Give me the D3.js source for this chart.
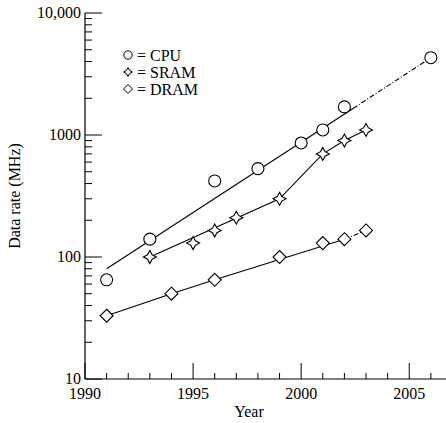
<!DOCTYPE html>
<html><head><meta charset="utf-8">
<script src="https://cdn.jsdelivr.net/npm/d3@7"></script>
<style>html,body{margin:0;padding:0;background:#fff}svg{display:block}
text{font-family:"Liberation Serif","DejaVu Serif",serif;}</style>
</head><body>
<script>
// ---- data ----
const cpuYears  = [1991, 1993, 1996, 1998, 2000, 2001, 2002, 2006];
const cpuValues = [65, 140, 420, 530, 860, 1100, 1700, 4300];
const sramYears  = [1993, 1995, 1996, 1997, 1999, 2001, 2002, 2003];
const sramValues = [100, 130, 165, 210, 300, 700, 900, 1100];
const dramYears  = [1991, 1994, 1996, 1999, 2001, 2002, 2003];
const dramValues = [33, 50, 65, 100, 130, 140, 165];
// trend lines (year, value)
const cpuTrendSolid  = [[1991, 80], [2002.4, 1650]];
const cpuTrendDashed = [[2002.4, 1650], [2006, 4300]];
const sramTrend      = [[1993, 100], [1999, 300], [2001, 700], [2002, 900], [2003, 1100]];
const dramTrendSolid = [[1991, 33], [1994, 50], [1996, 65], [2002, 140]];
const dramTrendDash  = [[2002, 140], [2003, 165]];
const yTickValues = [10, 100, 1000, 10000];
const yTickLabels = ["10", "100", "1000", "10,000"];
const xTickValues = [1990, 1995, 2000, 2005];
const legendLabels = ["= CPU", "= SRAM", "= DRAM"];

const W = 446, H = 423;
const svg = d3.select("body").append("svg").attr("width", W).attr("height", H);

const x = d3.scaleLinear().domain([1990, 2006.7]).range([85, 446]);
const y = d3.scaleLog().domain([10, 10000]).range([379, 13]);

const g = svg.append("g");
g.append("line").attr("x1", x(1990)).attr("x2", x(1990)).attr("y1", y(10000)).attr("y2", y(10)).attr("stroke", "#000").attr("stroke-width", 1.2);
g.append("line").attr("x1", x(1990)).attr("x2", W).attr("y1", y(10)).attr("y2", y(10)).attr("stroke", "#000").attr("stroke-width", 1.2);

const yMinor = [];
for (let d = 10; d < 10000; d *= 10) for (let k = 2; k <= 9; k++) yMinor.push(d * k);
g.selectAll(".ymin").data(yMinor).enter().append("line")
  .attr("x1", x(1990)).attr("x2", x(1990) + 7).attr("y1", d => y(d)).attr("y2", d => y(d)).attr("stroke", "#000");
g.selectAll(".ymaj").data(yTickValues).enter().append("line")
  .attr("x1", x(1990)).attr("x2", x(1990) + 17).attr("y1", d => y(d)).attr("y2", d => y(d)).attr("stroke", "#000");
g.selectAll(".ylab").data(yTickValues).enter().append("text")
  .attr("x", x(1990) - 4).attr("y", d => y(d) + 5).attr("text-anchor", "end")
  .attr("font-size", 16).text((d, i) => yTickLabels[i]);

const xMinor = d3.range(1991, 2007).filter(v => v % 5 !== 0);
g.selectAll(".xmin").data(xMinor).enter().append("line")
  .attr("x1", d => x(d)).attr("x2", d => x(d)).attr("y1", y(10)).attr("y2", y(10) - 6).attr("stroke", "#000");
g.selectAll(".xmaj").data(xTickValues).enter().append("line")
  .attr("x1", d => x(d)).attr("x2", d => x(d)).attr("y1", y(10)).attr("y2", y(10) - 16).attr("stroke", "#000");
g.selectAll(".xlab").data(xTickValues).enter().append("text")
  .attr("x", d => x(d)).attr("y", y(10) + 20).attr("text-anchor", "middle")
  .attr("font-size", 16).text(d => d);

svg.append("text").attr("x", 249).attr("y", 417).attr("text-anchor", "middle").attr("font-size", 16).text("Year");
svg.append("text").attr("transform", "translate(20,196) rotate(-90)").attr("text-anchor", "middle")
  .attr("font-size", 16).text("Data rate (MHz)");

const line = d3.line().x(d => x(d[0])).y(d => y(d[1]));
const lg = svg.append("g").attr("fill", "none").attr("stroke", "#000").attr("stroke-width", 1.1);
lg.append("path").attr("d", line(cpuTrendSolid));
lg.append("path").attr("d", line(cpuTrendDashed)).attr("stroke-dasharray", "5,2,1,2");
lg.append("path").attr("d", line(sramTrend));
lg.append("path").attr("d", line(dramTrendSolid));
lg.append("path").attr("d", line(dramTrendDash)).attr("stroke-dasharray", "5,2,1,2");

function starPath(s) {
  const a = s, b = s * 0.35;
  return `M0,${-a} L${b},${-b} L${a},0 L${b},${b} L0,${a} L${-b},${b} L${-a},0 L${-b},${-b} Z`;
}
function diamondPath(s) {
  return `M0,${-s} L${s},0 L0,${s} L${-s},0 Z`;
}
const mk = svg.append("g").attr("stroke", "#000").attr("fill", "#fff").attr("stroke-width", 1.1);
mk.selectAll(".cpu").data(cpuYears).enter().append("circle")
  .attr("cx", d => x(d)).attr("cy", (d, i) => y(cpuValues[i])).attr("r", 6);
mk.selectAll(".sram").data(sramYears).enter().append("path")
  .attr("transform", (d, i) => `translate(${x(d)},${y(sramValues[i])})`).attr("d", starPath(6.5));
mk.selectAll(".dram").data(dramYears).enter().append("path")
  .attr("transform", (d, i) => `translate(${x(d)},${y(dramValues[i])})`).attr("d", diamondPath(6.5));

const leg = svg.append("g");
const legY = [55, 72, 89];
leg.append("circle").attr("cx", 128).attr("cy", legY[0]).attr("r", 4.2).attr("fill", "#fff").attr("stroke", "#000");
leg.append("path").attr("transform", `translate(128,${legY[1]})`).attr("d", starPath(4.5)).attr("fill", "#fff").attr("stroke", "#000");
leg.append("path").attr("transform", `translate(128,${legY[2]})`).attr("d", diamondPath(4.5)).attr("fill", "#fff").attr("stroke", "#000");
leg.selectAll(".lt").data(legendLabels).enter().append("text")
  .attr("x", 137).attr("y", (d, i) => legY[i] + 5.5).attr("font-size", 16).text(d => d);
</script>
</body></html>
